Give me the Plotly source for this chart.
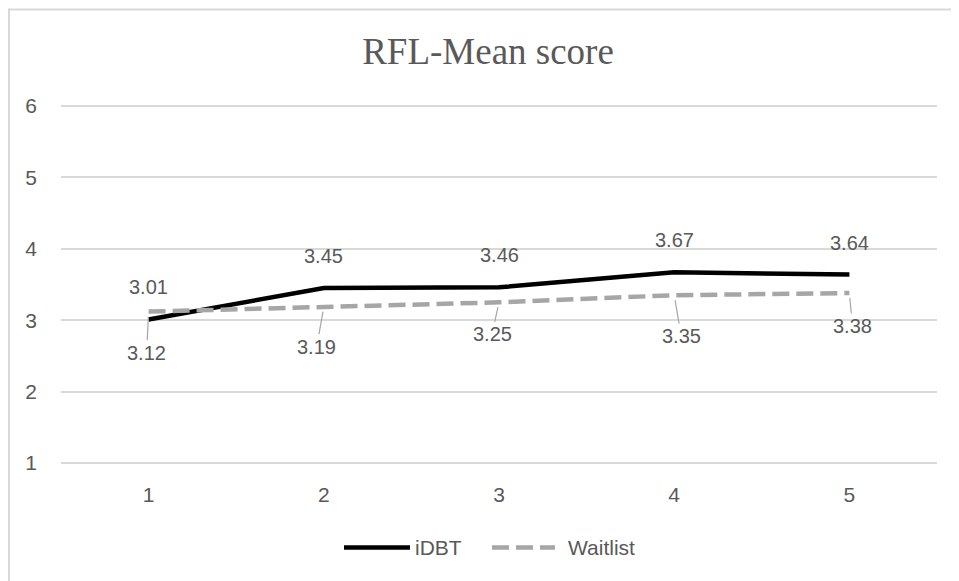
import plotly.graph_objects as go

categories = ["1", "2", "3", "4", "5"]
idbt = [3.01, 3.45, 3.46, 3.67, 3.64]
waitlist = [3.12, 3.19, 3.25, 3.35, 3.38]
series_names = ["iDBT", "Waitlist"]
y_ticks = [1, 2, 3, 4, 5, 6]
title_text = "RFL-Mean score"

# page body has an 8px margin: work in screen pixels and convert
O = 8
SW, SH = 959, 581
W, H = SW - O, SH - O
UNIT = 71.3
PAD = 0.1
plot_left, plot_right = 61, 937
plot_top = 106.5 - PAD * UNIT
plot_bottom = 463 + PAD * UNIT
L = plot_left - O
R = SW - plot_right
T = plot_top - O
B = SH - plot_bottom
PW, PH = W - L - R, H - T - B

def px_x(sx):
    return (sx - O - L) / PW

def px_y(sy):
    return (H - B - (sy - O)) / PH

TXT = "#595959"
GRID = "#d9d9d9"
BLACK = "#000000"
GRAY = "#a6a6a6"
FONT = "Liberation Sans"

fig = go.Figure()
fig.add_trace(go.Scatter(x=categories, y=idbt, mode="lines", name=series_names[0],
                         line=dict(color=BLACK, width=4.5), showlegend=False))
fig.add_trace(go.Scatter(x=categories, y=waitlist, mode="lines", name=series_names[1],
                         line=dict(color=GRAY, width=4.5, dash="17px,7px"), showlegend=False))

annotations = []
# iDBT labels above (category axis: x given by index)
for i, v in enumerate(idbt):
    annotations.append(dict(x=i, y=v, text=f"{v:.2f}", showarrow=False, yshift=32,
                            font=dict(family=FONT, size=20, color=TXT)))
# Waitlist labels below with leader lines
offsets = [(-2, 41), (-7, 40), (-7, 32), (7, 41), (3, 33)]
for i, (v, (ax, ay)) in enumerate(zip(waitlist, offsets)):
    annotations.append(dict(x=i, y=v, text=f"{v:.2f}", showarrow=True, arrowhead=0,
                            arrowwidth=1.2, arrowcolor=GRAY, ax=ax, ay=ay, standoff=5,
                            font=dict(family=FONT, size=20, color=TXT)))

# custom legend
leg_y = px_y(547.5)
shapes = [
    dict(type="line", xref="paper", yref="paper", x0=px_x(344), x1=px_x(410), y0=leg_y, y1=leg_y,
         line=dict(color=BLACK, width=4.5)),
    dict(type="line", xref="paper", yref="paper", x0=px_x(492), x1=px_x(555), y0=leg_y, y1=leg_y,
         line=dict(color=GRAY, width=4.5, dash="17px,7px")),
    # outer border (top and left)
    dict(type="line", xref="paper", yref="paper", x0=px_x(9), x1=px_x(965), y0=px_y(10), y1=px_y(10),
         line=dict(color=GRID, width=2)),
    dict(type="line", xref="paper", yref="paper", x0=px_x(9), x1=px_x(9), y0=px_y(9), y1=px_y(590),
         line=dict(color=GRID, width=2)),
]
annotations.append(dict(xref="paper", yref="paper", x=px_x(413), y=leg_y, xanchor="left", yanchor="middle",
                        text=series_names[0], showarrow=False, font=dict(family=FONT, size=21, color=TXT)))
annotations.append(dict(xref="paper", yref="paper", x=px_x(566), y=leg_y, xanchor="left", yanchor="middle",
                        text=series_names[1], showarrow=False, font=dict(family=FONT, size=21, color=TXT)))

fig.update_layout(
    width=W, height=H,
    margin=dict(l=L, r=R, t=T, b=B),
    paper_bgcolor="white", plot_bgcolor="white",
    title=dict(text=title_text, x=(488 - O) / W, y=1 - (51 - O) / H, xref="container", yref="container",
               xanchor="center", yanchor="middle",
               font=dict(family="Liberation Serif", size=37, color=TXT)),
    annotations=annotations,
    shapes=shapes,
    showlegend=False,
)
fig.update_xaxes(type="category", range=[-0.5, 4.5], showgrid=False, showline=False, zeroline=False,
                 ticks="", ticklabelstandoff=10, tickfont=dict(family=FONT, size=21, color=TXT))
fig.update_yaxes(range=[1 - PAD, 6 + PAD], tickvals=y_ticks, showgrid=True, gridcolor=GRID, gridwidth=1.5,
                 zeroline=False, showline=False, ticks="", ticklabelstandoff=23,
                 tickfont=dict(family=FONT, size=21, color=TXT))

fig.write_html("out.html")
